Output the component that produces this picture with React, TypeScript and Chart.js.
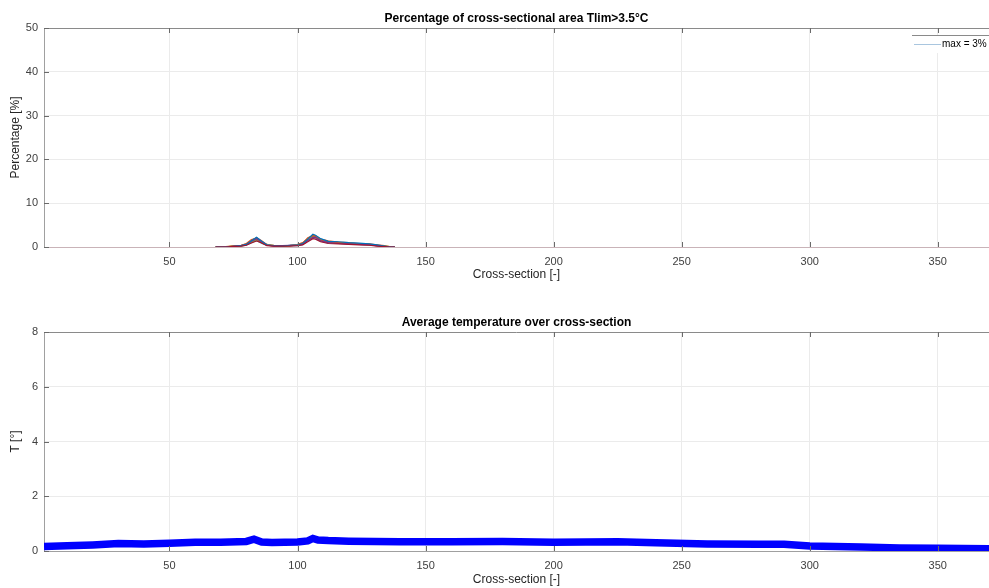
import React, { useEffect, useRef } from "react";
import Chart from "chart.js/auto";

// ---------- data ----------
const xTickValues = [50, 100, 150, 200, 250, 300, 350];
const topYTicks = [0, 10, 20, 30, 40, 50];
const bottomYTicks = [0, 2, 4, 6, 8];

const topTitle = "Percentage of cross-sectional area Tlim>3.5°C";
const bottomTitle = "Average temperature over cross-section";
const xAxisTitle = "Cross-section [-]";
const topYAxisTitle = "Percentage [%]";
const bottomYAxisTitle = "T [°]";
const legendLabel = "max = 3%";

const topX = [68, 70, 72, 74, 78, 80, 82, 84, 86, 88, 91, 94, 97, 100, 102, 104, 106, 107, 109, 112, 116, 120, 124, 128, 131, 134, 136, 138];
const topS1 = [0, 0, 0, 0.1, 0.3, 0.6, 1.4, 2.2, 1.3, 0.5, 0.3, 0.2, 0.4, 0.5, 0.8, 1.8, 2.9, 2.7, 1.9, 1.3, 1.2, 1.0, 0.9, 0.7, 0.5, 0.2, 0, 0];
const topS2 = [0, 0, 0.1, 0.2, 0.4, 0.8, 1.7, 2.0, 1.0, 0.4, 0.2, 0.3, 0.3, 0.4, 0.9, 2.1, 2.6, 2.4, 1.6, 1.1, 1.0, 0.8, 0.7, 0.6, 0.4, 0.1, 0, 0];
const topS3 = [0, 0, 0, 0.1, 0.2, 0.5, 1.2, 1.8, 1.1, 0.6, 0.3, 0.2, 0.3, 0.5, 0.7, 1.6, 2.4, 2.5, 1.7, 1.2, 0.9, 0.8, 0.6, 0.5, 0.3, 0.1, 0, 0];
const topS4 = [0, 0, 0, 0.1, 0.3, 0.5, 1.3, 1.9, 1.2, 0.5, 0.2, 0.3, 0.4, 0.4, 0.6, 1.5, 2.2, 2.2, 1.4, 1.0, 0.8, 0.7, 0.6, 0.5, 0.3, 0.1, 0, 0];
const topS5 = [0, 0, 0, 0.2, 0.3, 0.6, 1.1, 1.7, 0.9, 0.4, 0.3, 0.2, 0.3, 0.4, 0.7, 1.7, 2.5, 2.3, 1.5, 1.1, 1.0, 0.9, 0.7, 0.6, 0.4, 0.2, 0.1, 0];
const topS6 = [0, 0, 0.1, 0.1, 0.2, 0.4, 1.0, 1.5, 0.8, 0.4, 0.2, 0.2, 0.3, 0.3, 0.6, 1.4, 2.1, 2.0, 1.3, 0.9, 0.8, 0.7, 0.6, 0.4, 0.3, 0.1, 0.1, 0];
const topS7 = [0, 0, 0, 0.1, 0.2, 0.4, 0.9, 1.4, 0.9, 0.3, 0.2, 0.2, 0.2, 0.3, 0.5, 1.2, 1.9, 1.8, 1.2, 0.8, 0.7, 0.6, 0.5, 0.4, 0.2, 0.1, 0, 0];
const topS8 = [0, 0, 0.1, 0.1, 0.3, 0.7, 1.5, 2.1, 1.4, 0.6, 0.3, 0.3, 0.4, 0.6, 1.0, 1.9, 2.7, 2.6, 1.8, 1.4, 1.1, 1.0, 0.8, 0.7, 0.5, 0.3, 0.1, 0];
const topSeries = [topS7, topS1, topS4, topS2, topS5, topS3, topS6, topS8];
const topColors = ["#A2142F", "#0072BD", "#7E2F8E", "#D95319", "#77AC30", "#EDB120", "#4DBEEE", "#D95319"];

const bottomX = [1, 10, 20, 30, 40, 50, 60, 70, 80, 83, 86, 90, 100, 104, 106, 108, 112, 120, 140, 160, 180, 200, 225, 240, 260, 280, 290, 300, 320, 335, 350, 370];
const bottomT = [0.16, 0.19, 0.22, 0.27, 0.26, 0.28, 0.32, 0.32, 0.35, 0.43, 0.33, 0.31, 0.33, 0.37, 0.46, 0.4, 0.38, 0.36, 0.34, 0.34, 0.35, 0.32, 0.34, 0.3, 0.26, 0.25, 0.25, 0.18, 0.15, 0.11, 0.1, 0.08];

// ---------- helpers ----------
const FONT = '"Liberation Sans", Arial, sans-serif';
const TICK_COLOR = "#404040";

const framePlugin = {
  id: "frame",
  afterDraw(chart: any, _args: any, opts: any) {
    const { ctx, chartArea } = chart;
    const { left, right, top, bottom } = chartArea;
    const xs = chart.scales.x;
    const ys = chart.scales.y;
    ctx.save();
    ctx.strokeStyle = "#8a8a8a";
    ctx.lineWidth = 1;
    ctx.beginPath();
    ctx.moveTo(left, Math.round(top) + 0.5);
    ctx.lineTo(right, Math.round(top) + 0.5);
    ctx.stroke();
    ctx.strokeStyle = "#6a6a6a";
    ctx.beginPath();
    for (const t of xs.ticks) {
      const px = Math.round(xs.getPixelForValue(t.value)) + 0.5;
      ctx.moveTo(px, bottom);
      ctx.lineTo(px, bottom - 5);
      ctx.moveTo(px, top);
      ctx.lineTo(px, top + 5);
    }
    for (const t of ys.ticks) {
      const py = Math.round(ys.getPixelForValue(t.value)) + 0.5;
      ctx.moveTo(left, py);
      ctx.lineTo(left + 5, py);
    }
    ctx.stroke();
    // title
    ctx.fillStyle = "#000";
    ctx.font = "bold 12px " + FONT;
    ctx.textAlign = "center";
    ctx.textBaseline = "middle";
    ctx.fillText(opts.text, (left + 989) / 2, top - 9);
    // legend
    if (opts.legend) {
      const lx = 912;
      const ly = top + 7;
      ctx.fillStyle = "#fff";
      ctx.fillRect(lx, ly, 100, 18);
      ctx.strokeStyle = "#8a8a8a";
      ctx.beginPath();
      ctx.moveTo(lx, ly + 0.5);
      ctx.lineTo(lx + 100, ly + 0.5);
      ctx.stroke();
      ctx.strokeStyle = "#a9c6df";
      ctx.beginPath();
      ctx.moveTo(lx + 2, ly + 9.5);
      ctx.lineTo(lx + 29, ly + 9.5);
      ctx.stroke();
      ctx.fillStyle = "#000";
      ctx.font = "10px " + FONT;
      ctx.textAlign = "left";
      ctx.fillText(opts.legend, lx + 30, ly + 9.5);
    }
    ctx.restore();
  },
};

function makeOptions(p: {
  yMax: number;
  yTicks: number[];
  yTitle: string;
  title: string;
  legend?: string;
  padTop: number;
  xHeight: number;
  xTitlePadBottom: number;
  xBorder: string;
}): any {
  return {
    responsive: false,
    animation: false,
    devicePixelRatio: 1,
    layout: { padding: { top: p.padTop, left: 0, right: 0, bottom: 0 } },
    plugins: {
      legend: { display: false },
      tooltip: { enabled: false },
      title: { display: false },
      frame: { text: p.title, legend: p.legend },
    },
    elements: { point: { radius: 0 } },
    scales: {
      x: {
        type: "linear",
        min: 1,
        max: 370,
        afterBuildTicks: (s: any) => {
          s.ticks = xTickValues.map((v) => ({ value: v }));
        },
        afterFit: (s: any) => {
          s.height = p.xHeight;
        },
        grid: { color: "#ebebeb", drawTicks: false },
        border: { color: p.xBorder },
        ticks: { color: TICK_COLOR, padding: 8, maxRotation: 0, font: { family: FONT, size: 11 } },
        title: {
          display: true,
          text: xAxisTitle,
          color: "#262626",
          font: { family: FONT, size: 12 },
          padding: { top: 0, bottom: p.xTitlePadBottom },
        },
      },
      y: {
        type: "linear",
        min: 0,
        max: p.yMax,
        afterBuildTicks: (s: any) => {
          s.ticks = p.yTicks.map((v) => ({ value: v }));
        },
        afterFit: (s: any) => {
          s.width = 44;
        },
        grid: { color: "#ebebeb", drawTicks: false },
        border: { color: "#a0a0a0" },
        ticks: { color: TICK_COLOR, padding: 6, font: { family: FONT, size: 11 } },
        title: {
          display: true,
          text: p.yTitle,
          color: "#262626",
          font: { family: FONT, size: 12 },
          padding: { top: 8, bottom: 0 },
        },
      },
    },
  };
}

export default function App() {
  const topRef = useRef<HTMLCanvasElement>(null);
  const botRef = useRef<HTMLCanvasElement>(null);

  useEffect(() => {
    document.body.style.margin = "0";
    document.body.style.overflow = "hidden";

    const topDatasets = topSeries.map((s, i) => ({
      data: topX.map((x, j) => ({ x, y: s[j] })),
      borderColor: topColors[i],
      borderWidth: 1.2,
      pointRadius: 0,
      tension: 0,
    }));

    const topChart = new Chart(topRef.current as HTMLCanvasElement, {
      type: "line",
      data: { datasets: topDatasets },
      options: makeOptions({
        yMax: 50,
        yTicks: topYTicks,
        yTitle: topYAxisTitle,
        title: topTitle,
        legend: legendLabel,
        padTop: 28,
        xHeight: 43,
        xTitlePadBottom: 8,
        xBorder: "#c9b3b8",
      }),
      plugins: [framePlugin],
    } as any);

    const botChart = new Chart(botRef.current as HTMLCanvasElement, {
      type: "line",
      data: {
        datasets: [
          {
            data: bottomX.map((x, j) => ({ x, y: bottomT[j] })),
            borderColor: "#0000ff",
            borderWidth: 7.5,
            pointRadius: 0,
            tension: 0,
          },
        ],
      },
      options: makeOptions({
        yMax: 8,
        yTicks: bottomYTicks,
        yTitle: bottomYAxisTitle,
        title: bottomTitle,
        padTop: 42,
        xHeight: 37,
        xTitlePadBottom: 1,
        xBorder: "#a0a0a0",
      }),
      plugins: [framePlugin],
    } as any);

    return () => {
      topChart.destroy();
      botChart.destroy();
    };
  }, []);

  return (
    <div style={{ position: "relative", width: 989, height: 588, background: "#fff" }}>
      <canvas ref={topRef} width={989} height={290} style={{ position: "absolute", left: 0, top: 0, width: 989, height: 290 }} />
      <canvas ref={botRef} width={989} height={298} style={{ position: "absolute", left: 0, top: 290, width: 989, height: 298 }} />
    </div>
  );
}
